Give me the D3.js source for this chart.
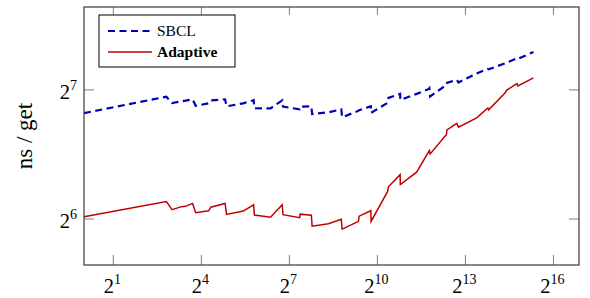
<!DOCTYPE html>
<html>
<head>
<meta charset="utf-8">
<script src="https://cdn.jsdelivr.net/npm/d3@7"></script>
<style>
  body { margin: 0; background: #fff; }
  svg { display: block; font-family: "Liberation Serif", "DejaVu Serif", serif; }
</style>
</head>
<body>
<div id="chart"></div>
<script>
// table size (x) and ns per get for both implementations
var sizes = [1, 7, 8, 10, 11, 13, 14, 19, 20, 28, 29, 43, 55, 56, 82, 108, 110,
  163, 165, 215, 219, 322, 436, 445, 654, 665, 876, 882, 1303, 1328, 1751, 1760,
  2585, 3418, 3492, 3558, 5228, 5292, 6686, 6945, 10678, 13914, 14175, 20938,
  21590, 27610, 28270, 40870];
var sbclNs = [113.0, 123.4, 119.2, 120.4, 120.8, 121.7, 117.5, 119.1, 121.0, 121.7,
  117.2, 119.1, 121.1, 116.0, 115.9, 121.0, 117.0, 115.3, 116.9, 117.2, 112.4,
  113.5, 115.3, 110.5, 114.4, 114.8, 117.2, 113.2, 119.4, 122.6, 125.3, 121.3,
  125.3, 128.5, 129.2, 123.6, 131.5, 132.9, 135.1, 133.2, 139.8, 143.3, 143.0,
  147.6, 148.0, 151.6, 151.2, 156.9];
var adaptiveNs = [64.8, 70.3, 67.3, 68.4, 68.5, 69.6, 66.2, 66.9, 68.2, 69.6,
  65.6, 66.8, 69.1, 65.4, 64.6, 69.1, 65.5, 64.45, 65.7, 65.3, 61.6, 62.4, 63.9,
  60.6, 63.2, 65.0, 66.9, 63.2, 74.2, 76.1, 81.2, 77.0, 82.3, 91.6, 92.4, 90.8,
  100.8, 103.3, 107.0, 104.8, 110.2, 116.2, 115.0, 126.1, 127.7, 132.4, 130.8,
  136.5];

var xTickExps = [1, 4, 7, 10, 13, 16];
var yTickExps = [6, 7];
var seriesNames = ["SBCL", "Adaptive"];
var yLabel = "ns / get";

(function() {
  var margin = { top: 7, left: 84, right: 11, bottom: 33 },
  width = 590 - margin.left - margin.right,
  height = 298 - margin.top - margin.bottom;

  var svg = d3.select("#chart")
        .append("svg")
        .attr("width", 590)
        .attr("height", 298)
        .append("g")
        .attr("transform", "translate(" + margin.left + "," + margin.top + ")");

  var xPositionScale = d3.scaleLog().base(2)
    .domain([1, Math.pow(2, 16.87)])
    .range([0, width]);

  var yPositionScale = d3.scaleLog().base(2)
    .domain([Math.pow(2, 5.644), Math.pow(2, 7.642)])
    .range([height, 0]);

  var frameColor = "#3a3a3a";
  var tickColor = "#808080";

  // ticks, inside the frame on all four sides
  var xTicks = xTickExps.map(function(e) { return Math.pow(2, e); });
  var yTicks = yTickExps.map(function(e) { return Math.pow(2, e); });

  xTicks.forEach(function(t) {
    var x = xPositionScale(t);
    svg.append("line").attr("x1", x).attr("x2", x).attr("y1", height).attr("y2", height - 10)
      .attr("stroke", tickColor).attr("stroke-width", 1);
    svg.append("line").attr("x1", x).attr("x2", x).attr("y1", 0).attr("y2", 8)
      .attr("stroke", tickColor).attr("stroke-width", 1);
  });
  yTicks.forEach(function(t) {
    var y = yPositionScale(t);
    svg.append("line").attr("x1", 0).attr("x2", 10).attr("y1", y).attr("y2", y)
      .attr("stroke", tickColor).attr("stroke-width", 1);
    svg.append("line").attr("x1", width).attr("x2", width - 10).attr("y1", y).attr("y2", y)
      .attr("stroke", tickColor).attr("stroke-width", 1);
  });

  // tick labels as 2^n
  function powLabel(sel, e) {
    sel.append("tspan").text("2");
    sel.append("tspan")
      .attr("dy", -9)
      .attr("font-size", 14)
      .text(e);
  }

  xTickExps.forEach(function(e) {
    var t = svg.append("text")
      .attr("x", xPositionScale(Math.pow(2, e)) - 1)
      .attr("y", height + 28)
      .attr("text-anchor", "middle")
      .attr("font-size", 20.5)
      .attr("fill", "#000");
    powLabel(t, e);
  });
  yTickExps.forEach(function(e) {
    var t = svg.append("text")
      .attr("x", -7)
      .attr("y", yPositionScale(Math.pow(2, e)) + 9)
      .attr("text-anchor", "end")
      .attr("font-size", 20.5)
      .attr("fill", "#000");
    powLabel(t, e);
  });

  // axis label
  svg.append("text")
    .attr("transform", "translate(" + (-52) + "," + (height / 2) + ") rotate(-90)")
    .attr("text-anchor", "middle")
    .attr("font-size", 23)
    .attr("fill", "#000")
    .text(yLabel);

  // series
  var sbclData = sizes.map(function(s, i) { return { size: s, ns: sbclNs[i] }; });
  var adaptiveData = sizes.map(function(s, i) { return { size: s, ns: adaptiveNs[i] }; });

  var line = d3.line()
    .x(function(d) { return xPositionScale(d.size); })
    .y(function(d) { return yPositionScale(d.ns); });

  svg.append("path")
    .datum(adaptiveData)
    .attr("d", line)
    .attr("class", "line-adaptive")
    .attr("stroke", "#c00000")
    .attr("stroke-width", 1.5)
    .attr("stroke-linejoin", "miter")
    .attr("fill", "none");

  svg.append("path")
    .datum(sbclData)
    .attr("d", line)
    .attr("class", "line-sbcl")
    .attr("stroke", "#0000b8")
    .attr("stroke-width", 2.2)
    .attr("fill", "none")
    .style("stroke-dasharray", "7,4.5");

  // frame
  svg.append("rect")
    .attr("x", 0).attr("y", 0)
    .attr("width", width).attr("height", height)
    .attr("fill", "none")
    .attr("stroke", frameColor)
    .attr("stroke-width", 1.2);

  // legend
  var legend = svg.append("g")
    .attr("class", "legend")
    .attr("transform", "translate(15,8)");
  legend.append("rect")
    .attr("x", 0).attr("y", 0)
    .attr("width", 136).attr("height", 52)
    .attr("fill", "#fff")
    .attr("stroke", "#000")
    .attr("stroke-width", 1);
  legend.append("line")
    .attr("x1", 9).attr("x2", 53).attr("y1", 16).attr("y2", 16)
    .attr("stroke", "#0000b8").attr("stroke-width", 2.2)
    .style("stroke-dasharray", "7,4.5");
  legend.append("text")
    .attr("x", 58).attr("y", 21)
    .attr("font-size", 15.5)
    .text(seriesNames[0]);
  legend.append("line")
    .attr("x1", 9).attr("x2", 53).attr("y1", 37).attr("y2", 37)
    .attr("stroke", "#c00000").attr("stroke-width", 1.5);
  legend.append("text")
    .attr("x", 58).attr("y", 42)
    .attr("font-size", 15.5)
    .attr("font-weight", "bold")
    .text(seriesNames[1]);
})();
</script>
</body>
</html>
